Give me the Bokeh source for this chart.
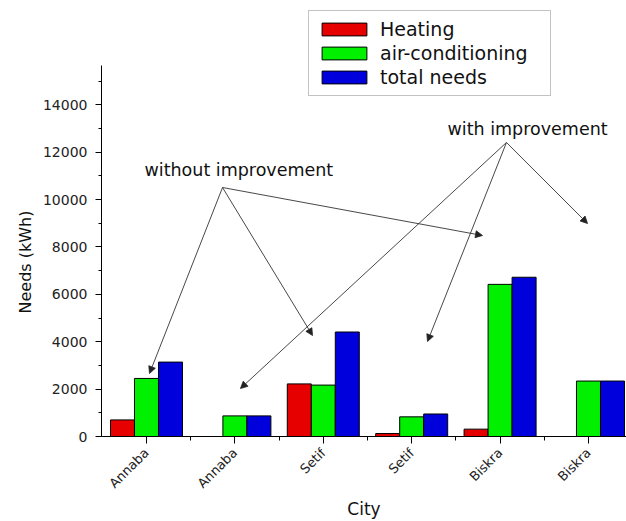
import math
import numpy as np
from bokeh.plotting import figure
from bokeh.models import (ColumnDataSource, FixedTicker, Range1d, Arrow, NormalHead, Label, Title)
from bokeh.embed import file_html
from bokeh.resources import INLINE

# Annual energy needs per city, without and with envelope improvement
cities = ["Annaba", "Annaba", "Setif", "Setif", "Biskra", "Biskra"]
heating = [700, 0, 2220, 125, 310, 0]
air_conditioning = [2450, 870, 2170, 830, 6420, 2340]
total_needs = [3140, 870, 4410, 950, 6720, 2340]

y_ticks = [0, 2000, 4000, 6000, 8000, 10000, 12000, 14000]

series = [
    ("Heating", heating, "#E60000"),
    ("air-conditioning", air_conditioning, "#00F000"),
    ("total needs", total_needs, "#0000DC"),
]

FONT = "DejaVu Sans"
BAR_W = 0.2715
pos = np.arange(1, len(cities) + 1, dtype=float)

p = figure(
    frame_width=525, frame_height=436,
    x_range=Range1d(0.491, 6.43), y_range=Range1d(0, 18400),
    output_backend="svg", toolbar_location=None,
    min_border_left=101, min_border_right=0, min_border_top=0, min_border_bottom=0,
)
p.outline_line_color = None
p.background_fill_color = "white"
p.border_fill_color = "white"
p.xgrid.visible = False
p.ygrid.visible = False

for k, (name, vals, color) in enumerate(series):
    src = ColumnDataSource(dict(x=pos + (k - 1) * BAR_W, top=vals))
    p.vbar(x="x", top="top", width=BAR_W, source=src, fill_color=color,
           line_color="black", line_width=1, legend_label=name)

# Axes
xa = p.xaxis[0]
xa.ticker = FixedTicker(ticks=list(pos), minor_ticks=list(pos[:-1] + 0.5))
xa.major_label_overrides = {int(i): c for i, c in zip(pos, cities)}
xa.major_label_orientation = math.pi / 4
xa.major_label_text_font = FONT
xa.major_label_text_font_size = "13px"
xa.major_label_text_color = "#222222"
xa.major_label_standoff = 7
xa.major_tick_out = 7
xa.major_tick_in = 0
xa.minor_tick_out = 4
xa.minor_tick_in = 0
xa.axis_label = "City"
xa.axis_label_standoff = 0
xa.axis_label_text_font = FONT
xa.axis_label_text_font_size = "17px"
xa.axis_label_text_font_style = "normal"
xa.axis_label_text_color = "#111111"

ya = p.yaxis[0]
ya.ticker = FixedTicker(ticks=y_ticks, minor_ticks=[1000, 3000, 5000, 7000, 9000, 11000, 13000, 15000])
ya.bounds = (0, 15650)
ya.major_label_text_font = FONT
ya.major_label_text_font_size = "14px"
ya.major_label_text_color = "#222222"
ya.major_label_standoff = 8
ya.major_tick_out = 6
ya.major_tick_in = 0
ya.minor_tick_out = 3
ya.minor_tick_in = 0

for ax in (xa, ya):
    ax.axis_line_color = "black"
    ax.major_tick_line_color = "black"
    ax.minor_tick_line_color = "black"

# Y-axis title, placed along the bounded part of the axis
p.add_layout(Title(text="Needs (kWh)", align="left", offset=123, standoff=10,
                   text_font=FONT, text_font_size="16px", text_font_style="normal",
                   text_color="#111111"), "left")

# Legend
lg = p.legend[0]
lg.location = (207, 340)
lg.label_text_font = FONT
lg.label_text_font_size = "19px"
lg.label_text_color = "#111111"
lg.glyph_width = 56
lg.glyph_height = 16
lg.label_height = 16
lg.label_width = 163
lg.label_standoff = 8
lg.spacing = 2
lg.padding = 7
lg.margin = 0
lg.border_line_color = "#888888"
lg.border_line_width = 1
lg.background_fill_alpha = 1

# Annotation arrows
def arrow(x0, y0, x1, y1):
    p.add_layout(Arrow(
        end=NormalHead(size=7, fill_color="#222222", line_color="#222222", line_width=0.8),
        x_start=x0, y_start=y0, x_end=x1, y_end=y1,
        line_color="#333333", line_width=0.9))

without_apex = (1.860, 10508)
for tx, ty in [(1.034, 2659), (2.878, 4262), (4.801, 8483)]:
    arrow(without_apex[0], without_apex[1], tx, ty)

with_apex = (5.072, 12407)
for tx, ty in [(5.989, 8989), (2.063, 2026), (4.179, 4009)]:
    arrow(with_apex[0], with_apex[1], tx, ty)

p.add_layout(Label(x=0.977, y=11226, text="without improvement", text_font=FONT,
                   text_font_size="17.5px", text_color="#111111", text_baseline="alphabetic"))
p.add_layout(Label(x=4.405, y=12998, text="with improvement", text_font=FONT,
                   text_font_size="17.5px", text_color="#111111", text_baseline="alphabetic"))

open("out.html", "w").write(file_html(p, INLINE))
